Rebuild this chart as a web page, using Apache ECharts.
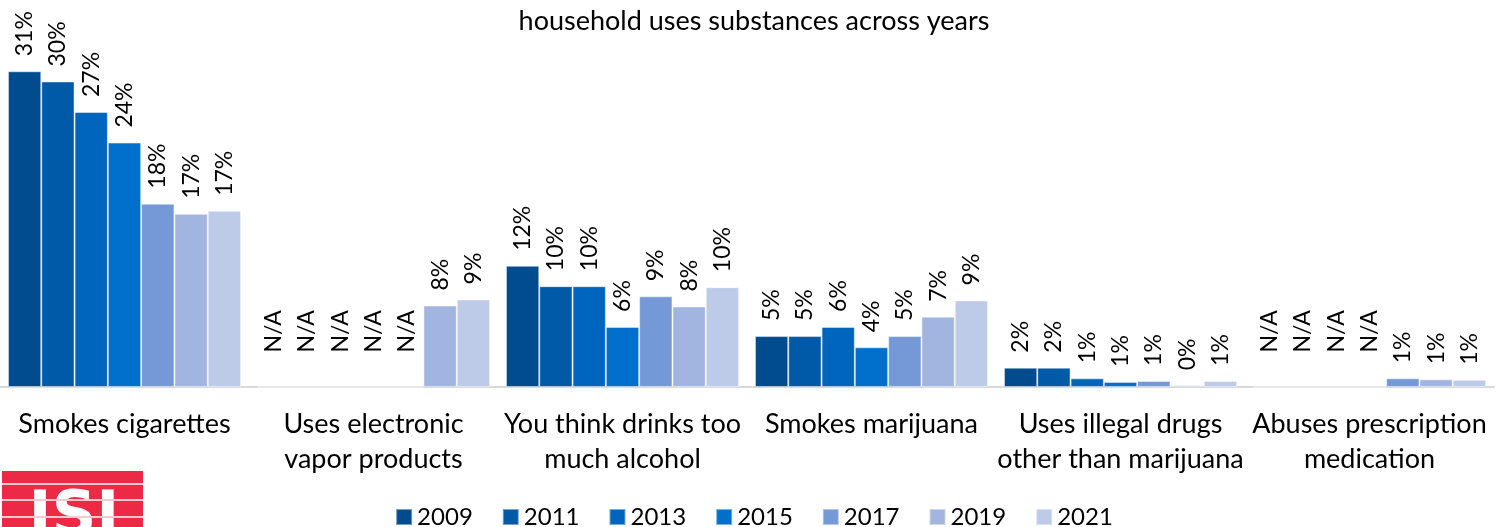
<!DOCTYPE html>
<html>
<head>
<meta charset="utf-8">
<script src="https://cdn.jsdelivr.net/npm/echarts@6/dist/echarts.min.js"></script>
<style>
html,body{margin:0;padding:0;background:#fff;}
#chart{width:1508px;height:527px;}
</style>
</head>
<body>
<div id="chart"></div>
<script>
// ---- Data ----
const titleText = 'household uses substances across years';
const categories = [
  'Smokes cigarettes',
  'Uses electronic\nvapor products',
  'You think drinks too\nmuch alcohol',
  'Smokes marijuana',
  'Uses illegal drugs\nother than marijuana',
  'Abuses prescription\nmedication'
];
const years = ['2009', '2011', '2013', '2015', '2017', '2019', '2021'];
// percentages per year across the categories (null = N/A)
const v2009 = [31.0, null, 11.9, 5.0, 1.9, null];
const v2011 = [30.0, null, 9.9, 5.0, 1.9, null];
const v2013 = [27.0, null, 9.9, 5.9, 0.85, null];
const v2015 = [24.0, null, 5.9, 3.9, 0.5, null];
const v2017 = [18.0, null, 8.9, 5.0, 0.6, 0.85];
const v2019 = [17.0, 8.0, 7.9, 6.9, 0.17, 0.75];
const v2021 = [17.3, 8.6, 9.8, 8.5, 0.6, 0.7];
const seriesValues = [v2009, v2011, v2013, v2015, v2017, v2019, v2021];
const naLabel = 'N/A';

const colors = ['#004C8F', '#005AA8', '#0066BD', '#0070CC', '#7598D6', '#A2B4E0', '#BECBE8'];
const fontFamily = 'Lato, "Open Sans", sans-serif';

const chart = echarts.init(document.getElementById('chart'), null, {renderer: 'canvas'});

const series = years.map((y, i) => ({
  name: y,
  type: 'bar',
  barGap: '0%',
  barCategoryGap: '6.4%',
  itemStyle: {color: colors[i], borderColor: 'rgba(255,255,255,0.45)', borderWidth: 1},
  label: {
    show: true,
    position: 'top',
    rotate: 90,
    align: 'left',
    verticalAlign: 'middle',
    distance: 15,
    fontFamily: fontFamily,
    fontSize: 23,
    color: '#000',
    formatter: p => Math.round(p.value) + '%'
  },
  data: seriesValues[i].map(v => v === null
    ? {value: 0, label: {distance: 34, formatter: naLabel}}
    : v)
}));

chart.setOption({
  animation: false,
  color: colors,
  title: {
    text: titleText,
    left: 'center',
    top: 3,
    textStyle: {fontFamily: fontFamily, fontSize: 27, fontWeight: 'normal', color: '#000'}
  },
  legend: {
    data: years,
    left: 'center',
    top: 505,
    icon: 'rect',
    itemWidth: 16,
    itemHeight: 16,
    itemGap: 29,
    padding: 0,
    textStyle: {fontFamily: fontFamily, fontSize: 24, color: '#000'}
  },
  grid: {left: 0, right: 14, top: 0, bottom: 140, containLabel: false},
  xAxis: {
    type: 'category',
    data: categories,
    axisLine: {show: true, lineStyle: {color: '#D9D9D9', width: 2}},
    axisTick: {show: false},
    axisLabel: {
      interval: 0,
      margin: 20,
      fontFamily: fontFamily,
      fontSize: 27,
      lineHeight: 35,
      color: '#000',
      align: 'center'
    }
  },
  yAxis: {
    type: 'value',
    min: 0,
    max: 38,
    show: false,
    splitLine: {show: false}
  },
  graphic: [
    {
      type: 'group',
      left: 2,
      top: 471,
      children: [
        {type: 'rect', shape: {x: 0, y: 0, width: 141, height: 60}, style: {fill: '#EC2A45'}},
        {type: 'text', style: {x: 72, y: 17, text: 'ISI', font: 'bold 62px "DejaVu Sans"', fill: '#fff', align: 'center', verticalAlign: 'top'}},
        {type: 'rect', shape: {x: 0, y: 12, width: 141, height: 2}, style: {fill: '#F6C9CF'}},
        {type: 'rect', shape: {x: 0, y: 28, width: 141, height: 2}, style: {fill: '#F6C9CF'}},
        {type: 'rect', shape: {x: 0, y: 45, width: 141, height: 2}, style: {fill: '#F6C9CF'}}
      ]
    }
  ],
  series: series
});
</script>
</body>
</html>
